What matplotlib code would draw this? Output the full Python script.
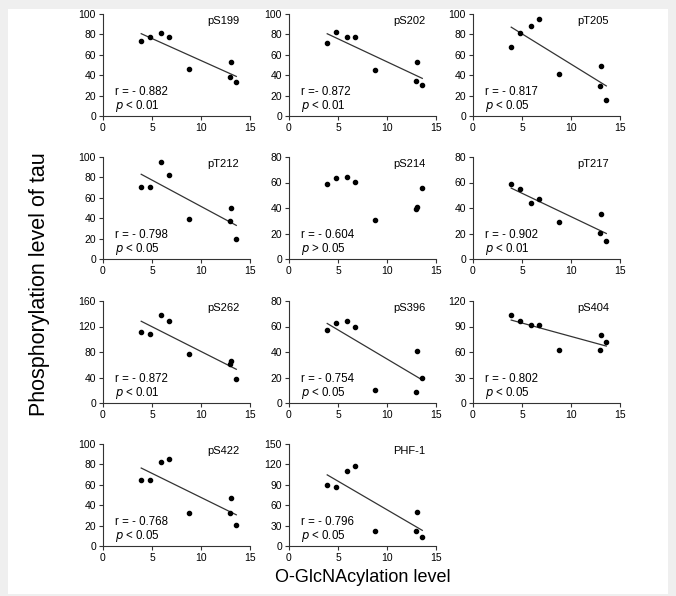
import numpy as np
import matplotlib
matplotlib.use("Agg")
import matplotlib.pyplot as plt
from matplotlib.patches import Rectangle

plt.rcParams['font.family'] = ['Liberation Sans', 'DejaVu Sans']

# O-GlcNAcylation level (same samples for every panel)
x_glc = [3.9, 4.75, 5.9, 6.7, 8.75, 13.05, 13.0, 13.6]

names = ["pS199", "pS202", "pT205", "pT212", "pS214", "pT217",
         "pS262", "pS396", "pS404", "pS422", "PHF-1"]

y_pS199 = [73.4, 77.0, 81.3, 77.7, 45.9, 52.8, 38.4, 33.1]
y_pS202 = [71.1, 82.0, 77.7, 77.0, 44.9, 53.4, 34.8, 30.8]
y_pT205 = [67.2, 81.6, 88.2, 95.4, 41.3, 49.5, 29.5, 15.7]
y_pT212 = [70.8, 70.5, 95.4, 82.6, 39.7, 50.2, 37.4, 19.3]
y_pS214 = [58.8, 63.5, 64.3, 60.1, 30.7, 40.7, 39.4, 55.6]
y_pT217 = [59.0, 55.1, 44.1, 47.2, 28.9, 35.4, 20.2, 13.9]
y_pS262 = [110.7, 108.6, 138.0, 128.0, 77.1, 66.0, 61.0, 37.8]
y_pS396 = [57.0, 62.7, 64.6, 59.6, 10.2, 40.9, 8.7, 19.7]
y_pS404 = [103.0, 96.5, 91.5, 92.3, 62.6, 79.5, 61.8, 72.0]
y_pS422 = [64.9, 64.9, 82.8, 85.4, 32.1, 47.4, 32.1, 20.1]
y_PHF1 = [89.7, 86.7, 110.8, 117.7, 22.7, 49.8, 22.7, 13.3]

series = [y_pS199, y_pS202, y_pT205, y_pT212, y_pS214, y_pT217,
          y_pS262, y_pS396, y_pS404, y_pS422, y_PHF1]

r_texts = ["r = - 0.882", "r =- 0.872", "r = - 0.817", "r = - 0.798", "r = - 0.604",
           "r = - 0.902", "r = - 0.872", "r = - 0.754", "r = - 0.802", "r = - 0.768",
           "r = - 0.796"]
p_texts = ["< 0.01", "< 0.01", "< 0.05", "< 0.05", "> 0.05", "< 0.01",
           "< 0.01", "< 0.05", "< 0.05", "< 0.05", "< 0.05"]
y_max = [100, 100, 100, 100, 80, 80, 160, 80, 120, 100, 150]
y_step = [20, 20, 20, 20, 20, 20, 40, 20, 30, 20, 30]
show_fit = [True, True, True, True, False, True, True, True, True, True, True]
x_ticks = [0, 5, 10, 15]

W, H = 676, 596
fig = plt.figure(figsize=(W / 100, H / 100), dpi=100)
fig.patch.set_facecolor('#efefef')
fig.patches.append(Rectangle((8 / W, 2 / H), (668 - 8) / W, (594 - 7 - 2) / H,
                             transform=fig.transFigure, facecolor='white',
                             edgecolor='none', zorder=-10))

lefts = [103, 289, 473]
tops = [14, 157, 301, 444]
aw, ah = 147, 102

for i, (name, ys) in enumerate(zip(names, series)):
    r, c = divmod(i, 3)
    ax = fig.add_axes([lefts[c] / W, 1 - (tops[r] + ah) / H, aw / W, ah / H])
    ax.set_facecolor('none')
    ax.plot(x_glc, ys, 'o', color='black', markersize=3.0, zorder=3)
    if show_fit[i]:
        k, b = np.polyfit(x_glc, ys, 1)
        xx = np.array([min(x_glc), max(x_glc)])
        ax.plot(xx, k * xx + b, color='#333333', lw=0.9)
    ax.set_xlim(0, 15)
    ax.set_ylim(0, y_max[i])
    ax.set_xticks(x_ticks)
    ax.set_yticks(np.arange(0, y_max[i] + 1, y_step[i]))
    for s in ['top', 'right']:
        ax.spines[s].set_visible(False)
    for s in ['left', 'bottom']:
        ax.spines[s].set_linewidth(0.8)
        ax.spines[s].set_color('#333333')
    ax.tick_params(direction='out', length=3, width=0.8, labelsize=7.5, pad=2,
                   color='#333333')
    tr = ax.get_xaxis_transform()
    ax.text(13.9, 0.93, name, transform=tr, ha='right', va='center', fontsize=8)
    ax.text(1.2, 0.24, r_texts[i], transform=tr, ha='left', va='center', fontsize=8.3)
    ax.text(1.2, 0.10, r"$\it{p}$ " + p_texts[i], transform=tr,
            ha='left', va='center', fontsize=8.3)

fig.text(363 / W, 1 - 578 / H, "O-GlcNAcylation level", ha='center', va='center',
         fontsize=13)
fig.text(40 / W, 1 - 284 / H, "Phosphorylation level of tau", ha='center', va='center',
         rotation=90, fontsize=15.5)

fig.savefig("out.png", dpi=100, facecolor=fig.get_facecolor())
